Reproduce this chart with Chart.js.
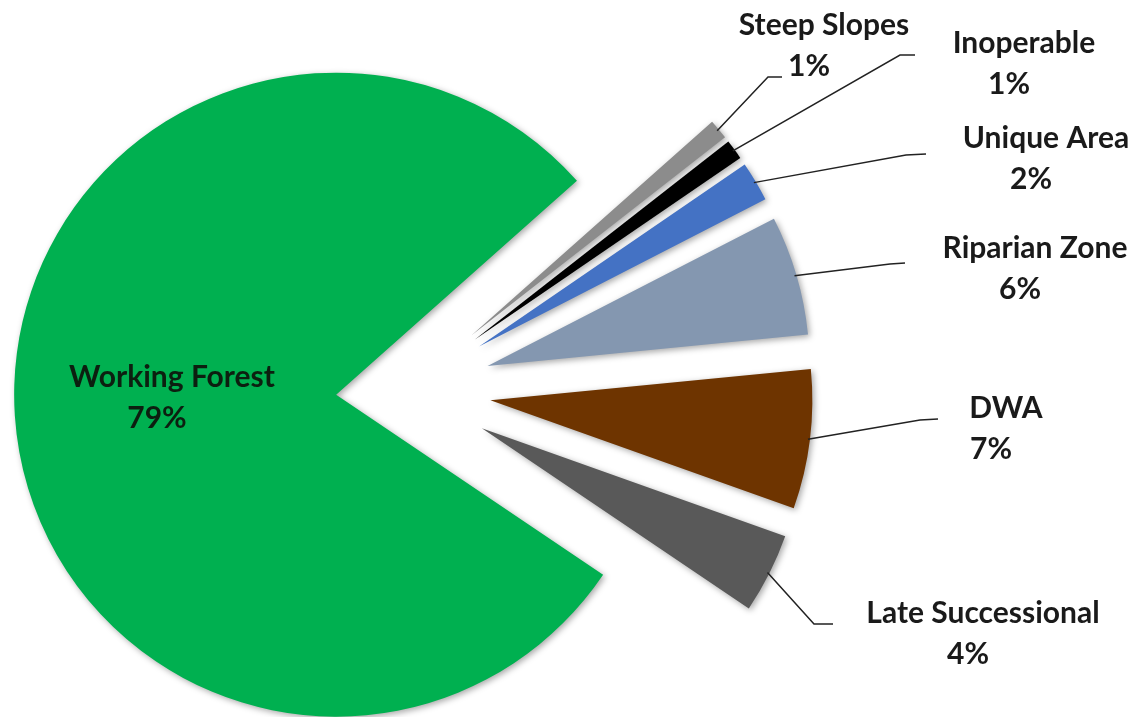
<!DOCTYPE html>
<html>
<head>
<meta charset="utf-8">
<script src="https://cdn.jsdelivr.net/npm/chart.js@4.4.0/dist/chart.umd.min.js"></script>
<style>
  html, body { margin: 0; padding: 0; background: #fff; }
  canvas { display: block; }
</style>
</head>
<body>
<canvas id="myChart" width="1136" height="717"></canvas>
<script>
const categories = ['Working Forest', 'Steep Slopes', 'Inoperable', 'Unique Area', 'Riparian Zone', 'DWA', 'Late Successional'];
const shares = [79, 1, 1, 2, 6, 7, 4];
const colors = ['#00B050', '#8C8C8C', '#000000', '#4472C4', '#8497B0', '#6E3400', '#595959'];

// how far each slice is pulled out from the centre, px
const explode = [70, 85, 85, 85, 85, 85, 85];
const pieRadius = 322;

// label text centre x / first baseline, leader elbow and end
const labelPos = [
    {x: 172, y: 387},
    {x: 824, y: 35, elbow: [768, 77], end: [782, 77]},
    {x: 1024, y: 53, elbow: [900, 55], end: [915, 55]},
    {x: 1046, y: 148, elbow: [906, 155], end: [926, 154]},
    {x: 1035, y: 258, elbow: [890, 264], end: [905, 263]},
    {x: 1006, y: 418, elbow: [920, 420], end: [938, 419]},
    {x: 983, y: 623, elbow: [814, 624], end: [833, 624]}
];

const labelFont = 'bold 30px Lato';

// chart.js offset shrinks thin slices, so pull the slices out here instead
const explodedSlices = {
    id: 'explodedSlices',
    beforeDatasetDraw(chart, args) {
        const ctx = chart.ctx;
        args.meta.data.forEach((arc, i) => {
            const h = (arc.startAngle + arc.endAngle) / 2;
            ctx.save();
            ctx.shadowColor = 'rgba(0, 0, 0, 0.35)';
            ctx.shadowBlur = 6;
            ctx.shadowOffsetX = 2;
            ctx.shadowOffsetY = 2;
            ctx.translate(Math.cos(h) * explode[i], Math.sin(h) * explode[i]);
            arc.draw(ctx);
            ctx.restore();
        });
        return false;
    }
};

const sliceLabels = {
    id: 'sliceLabels',
    afterDraw(chart) {
        const ctx = chart.ctx;
        const meta = chart.getDatasetMeta(0);
        ctx.save();
        meta.data.forEach((arc, i) => {
            const pos = labelPos[i];
            if (pos.elbow) {
                const h = (arc.startAngle + arc.endAngle) / 2;
                const r = explode[i] + arc.outerRadius - 2;
                ctx.beginPath();
                ctx.moveTo(arc.x + Math.cos(h) * r, arc.y + Math.sin(h) * r);
                ctx.lineTo(pos.elbow[0], pos.elbow[1]);
                ctx.lineTo(pos.end[0], pos.end[1]);
                ctx.strokeStyle = '#222';
                ctx.lineWidth = 1.5;
                ctx.stroke();
            }
            ctx.font = labelFont;
            ctx.fillStyle = i === 0 ? '#0c1f10' : '#1a1a1a';
            ctx.textAlign = 'center';
            ctx.textBaseline = 'alphabetic';
            ctx.fillText(categories[i], pos.x, pos.y);
            ctx.fillText(shares[i] + '%', pos.x - 15, pos.y + 41);
        });
        ctx.restore();
    }
};

const ctx = document.getElementById('myChart').getContext('2d');
const myChart = new Chart(ctx, {
    type: 'pie',
    data: {
        labels: categories,
        datasets: [{
            data: shares,
            backgroundColor: colors,
            borderWidth: 0,
            radius: pieRadius
        }]
    },
    options: {
        responsive: false,
        animation: false,
        events: [],
        rotation: 124,
        layout: {
            padding: {left: 0, right: 324, top: 63, bottom: 0}
        },
        plugins: {
            legend: {display: false},
            tooltip: {enabled: false}
        }
    },
    plugins: [explodedSlices, sliceLabels]
});
</script>
</body>
</html>
